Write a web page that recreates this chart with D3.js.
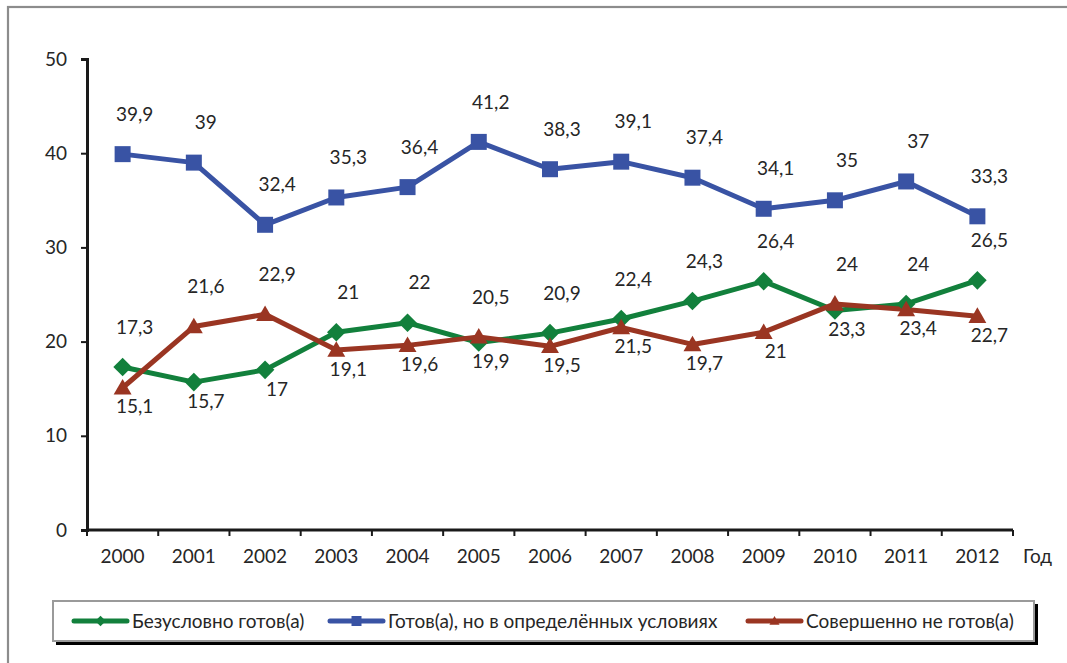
<!DOCTYPE html>
<html><head><meta charset="utf-8">
<script src="https://cdn.jsdelivr.net/npm/d3@7/dist/d3.min.js"></script>
<style>
html,body{margin:0;padding:0;background:#fff;}
svg{display:block;}
text{font-family:Lato,"Open Sans",sans-serif;fill:#262626;}
</style></head>
<body>
<svg id="chart" width="1067" height="663"></svg>
<script>
const years = ["2000","2001","2002","2003","2004","2005","2006","2007","2008","2009","2010","2011","2012"];
const unconditional = [17.3,15.7,17,21,22,19.9,20.9,22.4,24.3,26.4,23.3,24,26.5];
const conditional   = [39.9,39,32.4,35.3,36.4,41.2,38.3,39.1,37.4,34.1,35,37,33.3];
const notReady      = [15.1,21.6,22.9,19.1,19.6,20.5,19.5,21.5,19.7,21,24,23.4,22.7];
const yTicks = [0,10,20,30,40,50];
const seriesNames = ["Безусловно готов(а)","Готов(а), но в определённых условиях","Совершенно не готов(а)"];
const xAxisTitle = "Год";

(function(){
const colors = {green:"#12803c", blue:"#3953a4", red:"#9a3522"};
const series = [
  {name:seriesNames[0], values:unconditional, color:colors.green, marker:"diamond"},
  {name:seriesNames[1], values:conditional, color:colors.blue, marker:"square"},
  {name:seriesNames[2], values:notReady, color:colors.red, marker:"triangle"}
];

const svg = d3.select("#chart");
const FS = 19;

// outer frame
svg.append("rect").attr("x",8).attr("y",7).attr("width",1100).attr("height",720)
  .attr("fill","none").attr("stroke","#8c8c8c").attr("stroke-width",2.2);

const pL=87, pR=1013, pT=59, pB=530;
const x = d3.scaleBand().domain(years).range([pL,pR]).padding(0);
const y = d3.scaleLinear().domain([0,50]).range([pB,pT]);

// y axis
const yAxis = d3.axisLeft(y).tickValues(yTicks).tickSize(6).tickPadding(14).tickFormat(d3.format("d"));
const gy = svg.append("g").attr("transform",`translate(${pL},0)`).call(yAxis);
gy.select(".domain").attr("stroke","#1a1a1a").attr("stroke-width",3);
gy.selectAll(".tick line").attr("stroke","#1a1a1a").attr("stroke-width",2);
gy.selectAll(".tick text").style("font-size",FS+"px").style("font-family","Lato").attr("fill","#262626");

// x axis
svg.append("line").attr("x1",pL).attr("x2",pR).attr("y1",pB).attr("y2",pB)
  .attr("stroke","#1a1a1a").attr("stroke-width",3);
const bounds = years.map(d=>x(d)).concat([x(years[years.length-1])+x.bandwidth()]);
svg.selectAll(".xt").data(bounds).enter().append("line")
  .attr("x1",d=>d).attr("x2",d=>d).attr("y1",pB).attr("y2",pB+6)
  .attr("stroke","#1a1a1a").attr("stroke-width",2);
svg.selectAll(".xl").data(years).enter().append("text")
  .attr("x",d=>x(d)+x.bandwidth()/2).attr("y",pB+26).attr("dy","0.35em").attr("text-anchor","middle")
  .style("font-size",FS+"px").text(d=>d);
svg.append("text").attr("x",pR+10).attr("y",pB+26).attr("dy","0.35em").style("font-size",FS+"px").text(xAxisTitle);

const cx = d=>x(d)+x.bandwidth()/2;

function markerPath(type,s){
  if(type==="square") return `M${-s/2},${-s/2}h${s}v${s}h${-s}Z`;
  if(type==="diamond") return `M0,${-s*0.58}L${s*0.58},0L0,${s*0.58}L${-s*0.58},0Z`;
  return `M0,${-s*0.55}L${s*0.56},${s*0.42}L${-s*0.56},${s*0.42}Z`;
}

const line = d3.line().x((d,i)=>cx(years[i])).y(d=>y(d));
series.forEach(s=>{
  svg.append("path").datum(s.values).attr("d",line).attr("fill","none")
    .attr("stroke",s.color).attr("stroke-width",5).attr("stroke-linejoin","round");
});
series.forEach(s=>{
  svg.selectAll(null).data(s.values).enter().append("path")
    .attr("transform",(d,i)=>`translate(${cx(years[i])},${y(d)})`)
    .attr("d",markerPath(s.marker,16)).attr("fill",s.color);
});

// data labels: blue always above; green/red: higher one above, lower one below
function fmt(v){return String(v).replace(".",",");}
series.forEach((s,si)=>{
  s.values.forEach((v,i)=>{
    let above = true;
    if(si===0) above = v >= notReady[i];
    if(si===2) above = v > unconditional[i];
    const px = cx(years[i]) + 12;
    const py = y(v) + (above ? -40 : 19);
    svg.append("text").attr("x",px).attr("y",py).attr("text-anchor","middle")
      .attr("dy","0.35em").style("font-size",FS+"px").text(fmt(v));
  });
});

// legend
const lg = svg.append("g");
lg.append("rect").attr("x",56).attr("y",604).attr("width",982).attr("height",41).attr("fill","#000");
lg.append("rect").attr("x",53).attr("y",601).attr("width",981).attr("height",40)
  .attr("fill","#fff").attr("stroke","#9a9a9a").attr("stroke-width",2);
const legendX = [[74,127,132],[330,383,388],[748,801,806]];
series.forEach((s,i)=>{
  const [x1,x2,tx]=legendX[i];
  const ly=621;
  lg.append("line").attr("x1",x1).attr("x2",x2).attr("y1",ly).attr("y2",ly)
    .attr("stroke",s.color).attr("stroke-width",5).attr("stroke-linecap","round");
  lg.append("path").attr("transform",`translate(${(x1+x2)/2},${ly})`)
    .attr("d",markerPath(s.marker, s.marker==="square"?10:9)).attr("fill",s.color);
  lg.append("text").attr("x",tx).attr("y",ly).attr("dy","0.35em").style("font-size",FS+"px").text(s.name);
});
})();
</script>
</body></html>
